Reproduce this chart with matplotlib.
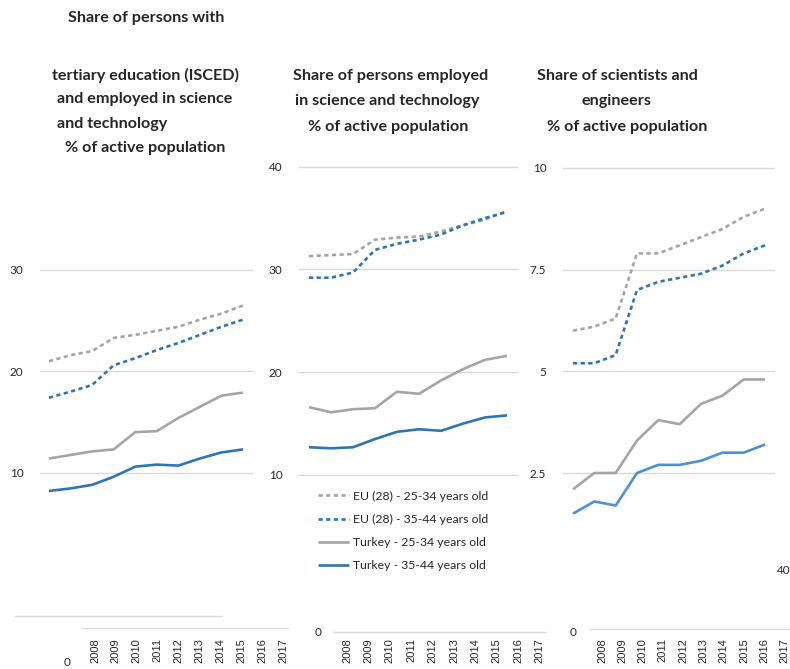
import matplotlib
matplotlib.use("Agg")
import matplotlib.pyplot as plt
from matplotlib.lines import Line2D

# ---------------- data ----------------
years = [2007, 2008, 2009, 2010, 2011, 2012, 2013, 2014, 2015, 2016]
year_labels = ["2008", "2009", "2010", "2011", "2012", "2013", "2014", "2015", "2016", "2017"]
series_names = ["EU (28) - 25-34 years old", "EU (28) - 35-44 years old",
                "Turkey - 25-34 years old", "Turkey - 35-44 years old"]

# Panel 1: tertiary education and employed in S&T
p1_eu_25_34 = [21.0, 21.6, 22.0, 23.3, 23.6, 24.0, 24.4, 25.1, 25.7, 26.5]
p1_eu_35_44 = [17.4, 18.0, 18.65, 20.6, 21.3, 22.1, 22.8, 23.6, 24.4, 25.1]
p1_tr_25_34 = [11.4, 11.75, 12.1, 12.3, 14.0, 14.1, 15.4, 16.5, 17.6, 17.9]
p1_tr_35_44 = [8.2, 8.45, 8.8, 9.6, 10.6, 10.8, 10.7, 11.4, 12.0, 12.3]

# Panel 2: employed in science and technology
p2_eu_25_34 = [31.3, 31.4, 31.5, 32.9, 33.1, 33.2, 33.7, 34.3, 34.85, 35.7]
p2_eu_35_44 = [29.2, 29.2, 29.7, 31.9, 32.5, 32.9, 33.4, 34.3, 35.0, 35.6]
p2_tr_25_34 = [16.6, 16.1, 16.4, 16.5, 18.1, 17.9, 19.2, 20.3, 21.2, 21.6]
p2_tr_35_44 = [12.7, 12.6, 12.7, 13.5, 14.2, 14.45, 14.3, 15.0, 15.6, 15.8]

# Panel 3: scientists and engineers
p3_eu_25_34 = [6.0, 6.1, 6.3, 7.9, 7.9, 8.1, 8.3, 8.5, 8.8, 9.0]
p3_eu_35_44 = [5.2, 5.2, 5.4, 7.0, 7.2, 7.3, 7.4, 7.6, 7.9, 8.1]
p3_tr_25_34 = [2.1, 2.5, 2.5, 3.3, 3.8, 3.7, 4.2, 4.4, 4.8, 4.8]
p3_tr_35_44 = [1.5, 1.8, 1.7, 2.5, 2.7, 2.7, 2.8, 3.0, 3.0, 3.2]

p1_ticks = [10, 20, 30]
p1_ticklabels = ["10", "20", "30"]
p2_ticks = [10, 20, 30, 40]
p2_ticklabels = ["10", "20", "30", "40"]
p3_ticks = [2.5, 5, 7.5, 10]
p3_ticklabels = ["2.5", "5", "7.5", "10"]

p1_title = ["Share of persons with", "tertiary education (ISCED)",
            "and employed in science", "and technology", "% of active population"]
p2_title = ["Share of persons employed", "in science and technology", "% of active population"]
p3_title = ["Share of scientists and", "engineers", "% of active population"]

# ---------------- styling / layout ----------------
W, H = 790, 669
GRAY = "#A5A5A5"
BLUE = "#2E75B6"
BLUE_LIGHT = "#4E91D2"
GRID = "#D9D9D9"
TXT = "#262626"
FONT = "Lato"
YEARFONT = "Liberation Sans"
DASH = (0, (1.6, 1.3))
TITLE_SIZE = 11.6

fig = plt.figure(figsize=(W / 100, H / 100), dpi=100)


def lim_from(px_a, val_a, px_b, val_b, lo_px, hi_px):
    """values at pixel positions lo_px, hi_px given two reference pairs"""
    k = (val_b - val_a) / (px_b - px_a)
    return val_a + (lo_px - px_a) * k, val_a + (hi_px - px_a) * k


def make_panel(left, right, top, bottom, xfirst_px, xlast_px, yref, ticks, ticklabels,
               data, colors):
    ax = fig.add_axes([left / W, 1 - bottom / H, (right - left) / W, (bottom - top) / H])
    ax.set_xlim(*lim_from(xfirst_px, years[0], xlast_px, years[-1], left, right))
    (pa, va), (pb, vb) = yref
    y_lo, y_hi = lim_from(pa, va, pb, vb, bottom, top)
    ax.set_ylim(y_lo, y_hi)
    ax.set_yticks(ticks)
    ax.set_yticklabels(ticklabels, fontfamily=FONT, fontsize=8.5, color=TXT)
    ax.set_xticks([])
    ax.tick_params(axis="y", length=0, pad=12)
    ax.grid(axis="y", color=GRID, lw=1.0)
    ax.set_axisbelow(True)
    for s in ax.spines.values():
        s.set_visible(False)
    ax.patch.set_alpha(0)
    handles = []
    styles = [DASH, DASH, "-", "-"]
    for vals, c, ls, name in zip(data, colors, styles, series_names):
        h, = ax.plot(years, vals, color=c, lw=1.9, linestyle=ls, label=name,
                     dash_capstyle="butt", solid_capstyle="butt", clip_on=False)
        handles.append(h)
    return ax, handles


ax1, _ = make_panel(40, 253, 255, 500, 49, 243, ((270, 30), (472.7, 10)),
                    p1_ticks, p1_ticklabels,
                    [p1_eu_25_34, p1_eu_35_44, p1_tr_25_34, p1_tr_35_44],
                    [GRAY, BLUE, GRAY, BLUE])
ax2, handles = make_panel(299, 518, 160, 480, 309, 507, ((166.7, 40), (475, 10)),
                          p2_ticks, p2_ticklabels,
                          [p2_eu_25_34, p2_eu_35_44, p2_tr_25_34, p2_tr_35_44],
                          [GRAY, BLUE, GRAY, BLUE])
ax3, _ = make_panel(563, 775, 160, 525, 573, 765, ((168, 10), (473, 2.5)),
                    p3_ticks, p3_ticklabels,
                    [p3_eu_25_34, p3_eu_35_44, p3_tr_25_34, p3_tr_35_44],
                    [GRAY, BLUE, GRAY, BLUE_LIGHT])

# legend inside panel 2
fig.legend(handles=handles, labels=series_names, loc="upper left",
           bbox_to_anchor=(318 / W, 1 - 490.5 / H), frameon=False,
           prop={"family": FONT, "size": 8.8}, labelcolor=TXT,
           handlelength=2.55, handletextpad=0.3, labelspacing=1.0,
           borderaxespad=0, borderpad=0)


def ftxt(x, y, s, **kw):
    kw.setdefault("color", TXT)
    kw.setdefault("fontfamily", FONT)
    fig.text(x / W, 1 - y / H, s, **kw)


# titles (baseline positions in px)
t1_pos = [(146, 21.7, "center"), (145.5, 80, "center"), (144.5, 103, "center"),
          (57, 128, "left"), (145, 152, "center")]
for (x, y, ha), s in zip(t1_pos, p1_title):
    ftxt(x, y, s, ha=ha, va="baseline", fontsize=TITLE_SIZE, fontweight="bold")
t2_pos = [(391, 80), (387.5, 105), (388, 131)]
for (x, y), s in zip(t2_pos, p2_title):
    ftxt(x, y, s, ha="center", va="baseline", fontsize=TITLE_SIZE, fontweight="bold")
t3_pos = [(617, 80), (616, 105), (627.5, 131)]
for (x, y), s in zip(t3_pos, p3_title):
    ftxt(x, y, s, ha="center", va="baseline", fontsize=TITLE_SIZE, fontweight="bold")

# year labels under each panel (rotated category labels)
for x0, step in [(95, 20.9), (347, 21.4), (602, 20.3)]:
    for i, lab in enumerate(year_labels):
        ftxt(x0 + i * step, 638, lab, ha="center", va="top", rotation=90,
             fontsize=8, fontfamily=YEARFONT)

# stray zero labels and baseline rules from the original composite
for x, y, s in [(67, 662, "0"), (318, 633, "0"), (573, 632, "0")]:
    ftxt(x, y, s, ha="center", va="center", fontsize=8.5)
ftxt(777, 571, "40", ha="left", va="center", fontsize=8.5)
for x0, x1, y in [(15, 222, 616), (82, 288, 628), (333, 545, 632), (590, 790, 629)]:
    fig.add_artist(Line2D([x0 / W, x1 / W], [1 - y / H, 1 - y / H], color=GRID, lw=1.0))

fig.savefig("out.png", dpi=100)
